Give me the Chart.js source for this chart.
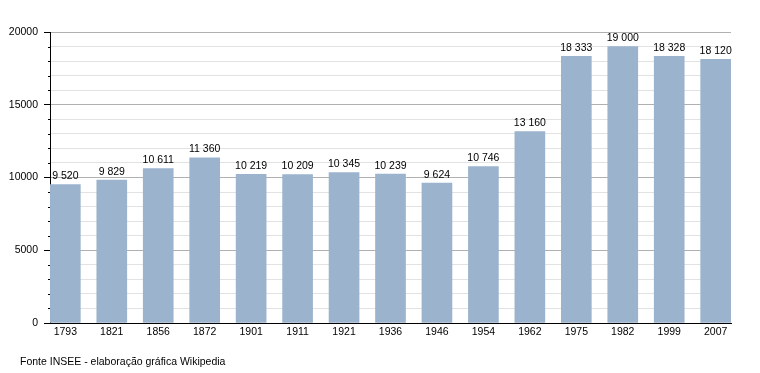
<!DOCTYPE html>
<html>
<head>
<meta charset="utf-8">
<script src="https://cdn.jsdelivr.net/npm/chart.js@4"></script>
<style>
  body { margin: 0; background: #fff; }
  #wrap { width: 760px; height: 373px; }
</style>
</head>
<body>
<div id="wrap"><canvas id="popChart" width="760" height="373"></canvas></div>
<script>
// Population data
const years = ['1793', '1821', '1856', '1872', '1901', '1911', '1921', '1936', '1946', '1954', '1962', '1975', '1982', '1999', '2007'];
const population = [9520, 9829, 10611, 11360, 10219, 10209, 10345, 10239, 9624, 10746, 13160, 18333, 19000, 18328, 18120];
const yMax = 20000;
const footerText = 'Fonte INSEE - elaboração gráfica Wikipedia';

const FONT = '"Liberation Sans", Arial, sans-serif';

function fmt(n) {
    return String(n).replace(/\B(?=(\d{3})+(?!\d))/g, ' ');
}

// value labels above bars, minor y ticks, footer
const labelPlugin = {
    id: 'labels',
    afterDatasetsDraw(chart) {
        const ctx = chart.ctx;
        const meta = chart.getDatasetMeta(0);
        const yScale = chart.scales.y;
        ctx.save();
        // short minor ticks on the y axis
        ctx.strokeStyle = '#000';
        ctx.lineWidth = 1;
        yScale.ticks.forEach(function(t) {
            if (t.value % 5000 !== 0) {
                const y = Math.round(yScale.getPixelForValue(t.value)) + 0.5;
                ctx.beginPath();
                ctx.moveTo(yScale.right - 2, y);
                ctx.lineTo(yScale.right, y);
                ctx.stroke();
            }
        });
        ctx.font = '10.5px ' + FONT;
        ctx.fillStyle = '#000';
        ctx.textAlign = 'center';
        ctx.textBaseline = 'bottom';
        meta.data.forEach(function(bar, i) {
            ctx.fillText(fmt(population[i]), bar.x, bar.y - 3);
        });
        ctx.textAlign = 'left';
        ctx.textBaseline = 'middle';
        ctx.fillText(footerText, 20, 362);
        ctx.restore();
    }
};

new Chart(document.getElementById('popChart'), {
    type: 'bar',
    data: {
        datasets: [{
            data: population.map(function(v, i) { return { x: i, y: v }; }),
            backgroundColor: '#9bb3cd',
            borderWidth: 0,
            barThickness: 30
        }]
    },
    options: {
        responsive: false,
        animation: false,
        layout: { padding: { top: 32, right: 29, bottom: 30, left: 0 } },
        plugins: {
            legend: { display: false },
            tooltip: { enabled: false }
        },
        scales: {
            x: {
                type: 'linear',
                offset: false,
                min: -0.33,
                max: years.length - 1 + 0.33,
                grid: { display: false, drawTicks: false },
                border: { color: '#000', width: 1 },
                afterBuildTicks(scale) {
                    scale.ticks = years.map(function(_, i) { return { value: i }; });
                },
                ticks: {
                    autoSkip: false,
                    color: '#000',
                    font: { family: FONT, size: 10.5 },
                    padding: 3,
                    maxRotation: 0,
                    callback: function(v) { return years[Math.round(v)]; }
                },
                afterFit(scale) { scale.height = 20; }
            },
            y: {
                min: 0,
                max: yMax,
                border: { color: '#000', width: 1 },
                grid: {
                    color: function(c) {
                        if (c.tick.value === 0) return 'rgba(0,0,0,0)';
                        return c.tick.value % 5000 === 0 ? '#b0b0b0' : '#e2e2e2';
                    },
                    tickColor: function(c) {
                        return c.tick.value % 5000 === 0 ? '#000' : 'rgba(0,0,0,0)';
                    },
                    tickLength: 6
                },
                ticks: {
                    stepSize: 1000,
                    autoSkip: false,
                    color: '#000',
                    font: { family: FONT, size: 10.5 },
                    padding: 6,
                    callback: function(v) { return v % 5000 === 0 ? String(v) : ''; }
                },
                afterFit(scale) { scale.width = 50; }
            }
        }
    },
    plugins: [labelPlugin]
});
</script>
</body>
</html>
